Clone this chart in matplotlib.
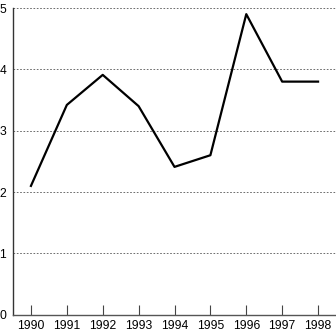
import matplotlib
matplotlib.use("Agg")
import matplotlib.pyplot as plt

years = [1990, 1991, 1992, 1993, 1994, 1995, 1996, 1997, 1998]
values = [2.1, 3.42, 3.91, 3.4, 2.41, 2.6, 4.9, 3.8, 3.8]
y_ticks = [0, 1, 2, 3, 4, 5]

plt.rcParams["font.family"] = ["Liberation Sans", "DejaVu Sans"]

fig = plt.figure(figsize=(3.36, 3.31), dpi=100)
ax = fig.add_axes([0.0387, 0.0492, 0.9613, 0.9266])

for y in y_ticks[1:]:
    ax.axhline(y, color="#555555", linestyle=(0, (2, 2)), linewidth=0.6, zorder=1)

ax.plot(years, values, color="black", linewidth=1.6, zorder=3)

ax.set_xlim(1989.5, 1998.5)
ax.set_ylim(0, 5)
ax.set_xticks(years)
ax.set_xticklabels([str(y) for y in years])
ax.set_yticks(y_ticks)

ax.spines["top"].set_visible(False)
ax.spines["right"].set_visible(False)
ax.spines["left"].set_color("#333333")
ax.spines["bottom"].set_color("#555555")
ax.spines["left"].set_linewidth(1.0)
ax.spines["bottom"].set_linewidth(1.0)

ax.tick_params(axis="x", direction="in", length=7, width=0.8, color="#444444",
               labelsize=8.7, pad=4)
ax.tick_params(axis="y", length=0, labelsize=8.7, pad=5)

fig.savefig("out.png", dpi=100)
